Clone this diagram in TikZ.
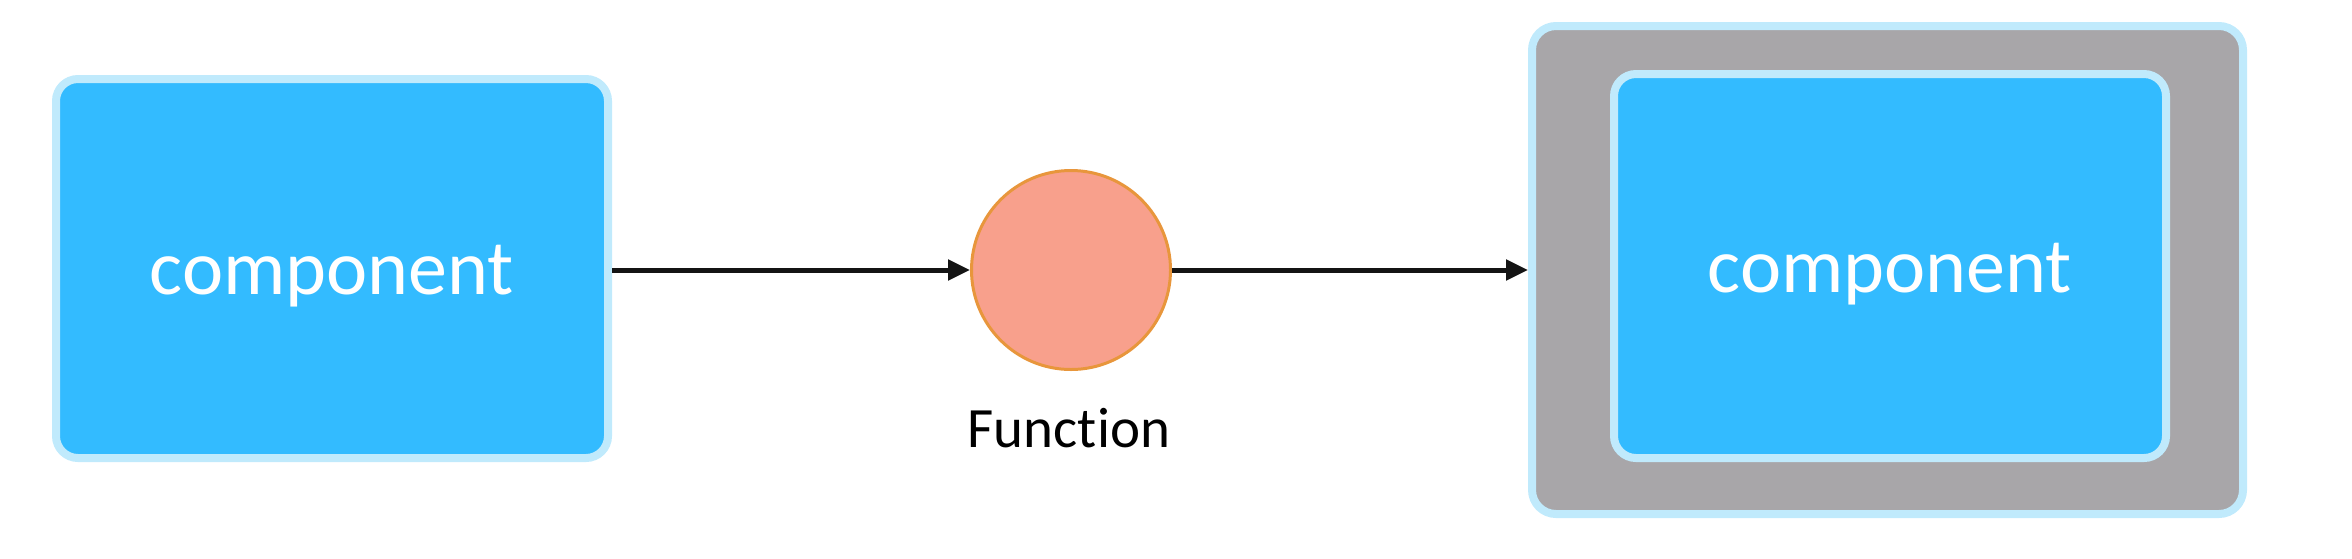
\documentclass[tikz,border=0pt]{standalone}
\usepackage{fontspec}
\setmainfont[Ligatures={NoCommon}]{Carlito}
\usetikzlibrary{arrows.meta}
\definecolor{boxblue}{HTML}{33BBFF}
\definecolor{edgeblue}{HTML}{C0EAFC}
\definecolor{holdgray}{HTML}{A8A6A9}
\definecolor{fnfill}{HTML}{F8A08C}
\definecolor{fnedge}{HTML}{E8963C}
\definecolor{arrowcol}{HTML}{141414}
\tikzset{
  compbox/.style={rectangle, rounded corners=22pt, fill=boxblue, draw=edgeblue, line width=8pt, inner sep=0pt,
    text=white, font=\fontsize{78}{82}\selectfont, text height=52pt, text depth=0pt},
  holder/.style={rectangle, rounded corners=24pt, fill=holdgray, draw=edgeblue, line width=8pt, inner sep=0pt},
  fnnode/.style={circle, fill=fnfill, draw=fnedge, line width=3pt, inner sep=0pt, minimum size=199pt},
  lbl/.style={font=\fontsize{57}{60}\selectfont, text=black, inner sep=0pt},
  flow/.style={draw=arrowcol, line width=5pt, -{Triangle[length=22pt,width=20pt]}}
}
\begin{document}
\begin{tikzpicture}[x=1pt,y=-1pt]
\useasboundingbox (0,0) rectangle (2352,558);
\node[compbox, minimum width=552pt, minimum height=379pt] (left) at (332,268.5) {component};
\node[fnnode] (fn) at (1071,270) {};
\node[lbl, anchor=base] (fnlabel) at (1069,447) {Function};
\node[holder, minimum width=711pt, minimum height=488pt] (outer) at (1887.5,270) {};
\node[compbox, minimum width=552pt, minimum height=384pt] (inner) at (1890,266) {component};
\draw[flow] (left.east |- fn.west) -- (fn.west);
\draw[flow] (fn.east) -- (outer.west);
\end{tikzpicture}
\end{document}
